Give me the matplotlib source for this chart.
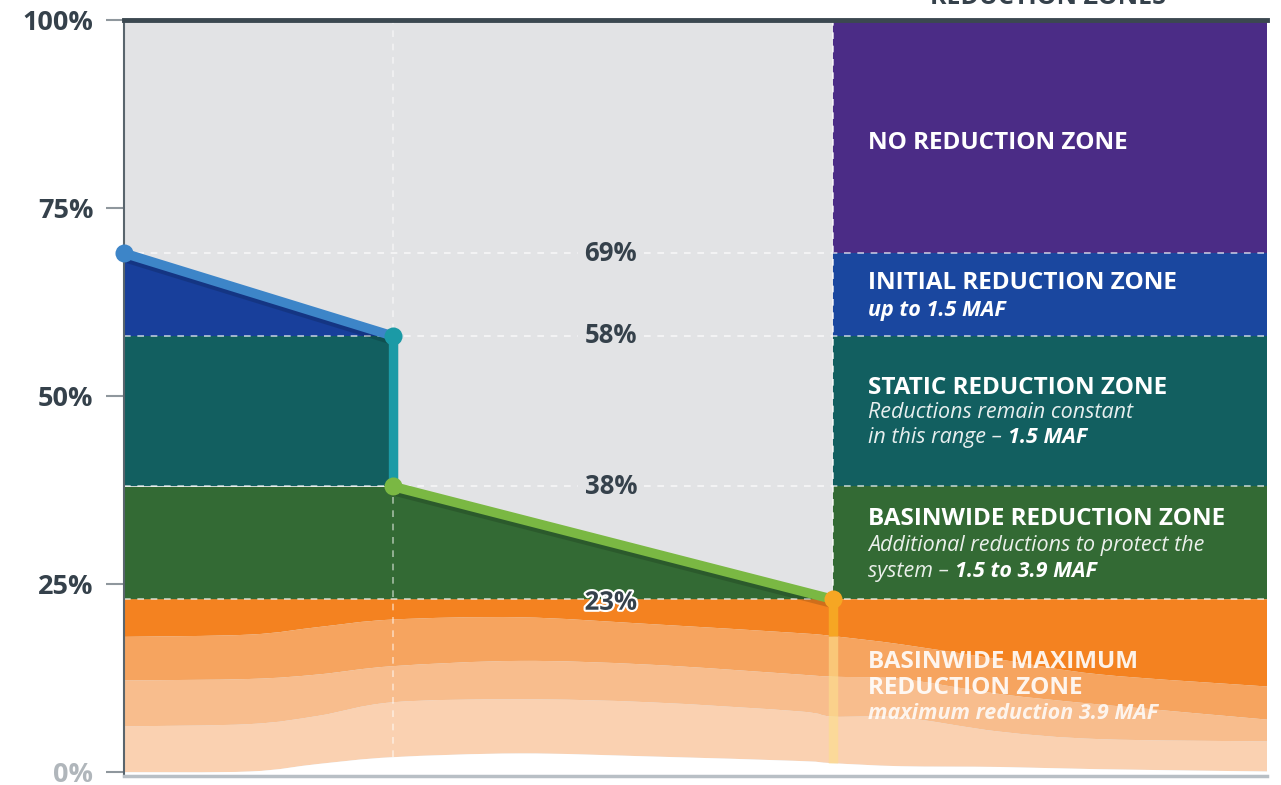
import numpy as np
import matplotlib
matplotlib.use("Agg")
import matplotlib.pyplot as plt
import matplotlib.patheffects as pe
from matplotlib.path import Path
from matplotlib.patches import PathPatch

plt.rcParams['font.family'] = ['Open Sans', 'DejaVu Sans']

# reservoir level thresholds (percent) and where they sit along the x axis
levels = [69, 58, 38, 23]
level_labels = ['69%', '58%', '38%', '23%']
path_x = [0, 23.5, 23.5, 62]
path_y = [69, 58, 38, 23]
panel_x = 62

# wavy bands of the maximum reduction zone, read at these x positions
wave_x = [0, 11, 17, 23.5, 34.6, 46, 59, 62, 68, 76.6, 85.4, 100]
band1 = [18.0, 18.3, 19.3, 20.3, 20.6, 19.7, 18.5, 18.1, 17.0, 15.0, 13.0, 11.4]
band2 = [12.2, 12.4, 13.0, 14.1, 14.8, 14.3, 13.0, 12.7, 12.4, 10.4, 9.0, 7.0]
band3 = [6.1, 6.4, 7.5, 9.3, 9.7, 9.3, 8.1, 7.4, 7.3, 5.4, 4.4, 4.1]
bottom = [0.0, 0.1, 1.1, 2.0, 2.5, 2.1, 1.5, 1.2, 0.8, 0.7, 0.4, 0.1]

ytick_vals = [0, 25, 50, 75, 100]
ytick_labels = ['0%', '25%', '50%', '75%', '100%']

c_gray = '#e2e3e5'
c_purple = '#4b2c86'
c_blue = '#1a479f'
c_blue_l = '#183f9b'
c_teal = '#125f60'
c_green = '#336a34'
c_orange = ['#f48220', '#f6a45f', '#f8bd8d', '#fad1b1']
c_text = '#35414b'


def smooth_codes(xs, ys):
    # catmull-rom through the points, written as cubic bezier segments
    pts = np.column_stack([xs, ys]).astype(float)
    verts, codes = [], []
    n = len(pts)
    for i in range(n - 1):
        p0 = pts[max(i - 1, 0)]
        p1 = pts[i]
        p2 = pts[i + 1]
        p3 = pts[min(i + 2, n - 1)]
        c1 = p1 + (p2 - p0) / 6
        c2 = p2 - (p3 - p1) / 6
        verts += [c1, c2, p2]
        codes += [Path.CURVE4] * 3
    return verts, codes


def smooth_band(ax, xs, top, bot, **kw):
    tv, tc = smooth_codes(xs, top)
    bv, bc = smooth_codes(xs[::-1], bot[::-1])
    verts = [(xs[0], top[0])] + tv + [(xs[-1], bot[-1])] + bv + [(xs[0], top[0])]
    codes = [Path.MOVETO] + tc + [Path.LINETO] + bc + [Path.CLOSEPOLY]
    ax.add_patch(PathPatch(Path(verts, codes), lw=0, **kw))


fig = plt.figure(figsize=(12.81, 7.85), dpi=100)
ax = fig.add_axes([124 / 1281, 9 / 785, 1143 / 1281, 756 / 785])
ax.set_facecolor(c_gray)
ax.set_xlim(0, 100)
ax.set_ylim(-0.5, 100)

# zones left of the panel, under the path
ax.fill_between(path_x[:2], [levels[1]] * 2, path_y[:2], color=c_blue_l, lw=0, zorder=1)
ax.fill_between(path_x[:2], [levels[2]] * 2, [levels[1]] * 2, color=c_teal, lw=0, zorder=1)
ax.fill_between([0, path_x[2], path_x[3]], [levels[3]] * 3,
                [levels[2], path_y[2], path_y[3]], color=c_green, lw=0, zorder=1)

# right panel zones
px = [panel_x, 100]
ax.fill_between(px, levels[0], 100, color=c_purple, lw=0, zorder=1)
ax.fill_between(px, levels[1], levels[0], color=c_blue, lw=0, zorder=1)
ax.fill_between(px, levels[2], levels[1], color=c_teal, lw=0, zorder=1)
ax.fill_between(px, levels[3], levels[2], color=c_green, lw=0, zorder=1)

# maximum reduction bands
tops = [[levels[3]] * len(wave_x), band1, band2, band3]
bots = [band1, band2, band3, bottom]
for top, bot, col in zip(tops, bots, c_orange):
    smooth_band(ax, wave_x, top, bot, color=col, zorder=1.2)
smooth_band(ax, wave_x, bottom, [-1] * len(wave_x), color='white', zorder=1.3)

# dashed guide lines
for lv in levels:
    ax.axhline(lv, color='white', lw=1.2, ls=(0, (4, 4)), alpha=0.7, zorder=2)
ax.plot([path_x[1]] * 2, [bottom[3], 100], color='white', lw=1.2,
        ls=(0, (4, 4)), alpha=0.55, zorder=2)
ax.plot([panel_x] * 2, [levels[3], 100], color='white', lw=1.2,
        ls=(0, (4, 4)), alpha=0.8, zorder=2)

# the reduction path
shadow = [pe.SimpleLineShadow(offset=(0, -3), alpha=0.15, shadow_color='black'), pe.Normal()]
seg_cols = ['#3d85c8', '#1b9aa6', '#7ab843']
for i, col in enumerate(seg_cols):
    ax.plot(path_x[i:i + 2], path_y[i:i + 2], color=col, lw=6.8,
            solid_capstyle='round', zorder=4, path_effects=shadow)
i62 = wave_x.index(panel_x)
ax.plot([panel_x] * 2, [band1[i62], bottom[i62]], color='#fde08a', lw=6.8,
        alpha=0.6, solid_capstyle='butt', zorder=3.9)
ax.plot([panel_x] * 2, [path_y[3], band1[i62]], color='#f6a623', lw=6.8,
        solid_capstyle='butt', zorder=4)
for x, y, col in zip(path_x, path_y, ['#3d85c8', '#1b9aa6', '#7ab843', '#f6a623']):
    ax.plot(x, y, 'o', ms=13, color=col, mec='none', zorder=4.5, clip_on=False)

# threshold labels
for lv, lab in zip(levels, level_labels):
    if lv == levels[3]:
        ax.text(42.6, lv - 0.4, lab, ha='center', va='center', fontsize=18.5,
                fontweight='bold', color=c_text, zorder=5,
                path_effects=[pe.withStroke(linewidth=3, foreground='white')])
    else:
        ax.text(42.6, lv, lab, ha='center', va='center', fontsize=18.5,
                fontweight='bold', color=c_text, zorder=5,
                bbox=dict(boxstyle='square,pad=0.25', fc=c_gray, ec='none'))

# zone descriptions
tx = 65.1
head = dict(fontsize=17.5, fontweight='bold', color='white', va='center', zorder=5)
sub = dict(fontsize=15.5, style='italic', color='white', va='center', zorder=5)
subb = dict(fontsize=15.5, style='italic', fontweight='bold', color='white', zorder=5)

ax.text(tx, 83.7, 'NO REDUCTION ZONE', **head)
ax.text(tx, 65.1, 'INITIAL REDUCTION ZONE', **head)
ax.text(tx, 61.4, 'up to 1.5 MAF', **dict(sub, fontweight='bold'))
ax.text(tx, 51.1, 'STATIC REDUCTION ZONE', **head)
ax.text(tx, 47.8, 'Reductions remain constant', alpha=0.9, **sub)
t1 = ax.text(tx, 44.5, 'in this range – ', alpha=0.9, **sub)
ax.annotate('1.5 MAF', xy=(1, 0), xycoords=t1, va='bottom', **subb)
ax.text(tx, 33.6, 'BASINWIDE REDUCTION ZONE', **head)
ax.text(tx, 30.1, 'Additional reductions to protect the', alpha=0.9, **sub)
t2 = ax.text(tx, 26.7, 'system – ', alpha=0.9, **sub)
ax.annotate('1.5 to 3.9 MAF', xy=(1, 0), xycoords=t2, va='bottom', **subb)
ax.text(tx, 14.7, 'BASINWIDE MAXIMUM', alpha=0.9, **head)
ax.text(tx, 11.2, 'REDUCTION ZONE', alpha=0.9, **head)
ax.text(tx, 7.8, 'maximum reduction 3.9 MAF', alpha=0.85, **dict(sub, fontweight='bold'))

fig.text(0.818, 1 - 4 / 785, 'REDUCTION ZONES', ha='center', va='baseline',
         fontsize=18, fontweight='bold', color=c_text)

# axes styling
ax.spines['right'].set_visible(False)
ax.spines['top'].set_color('#3b4850')
ax.spines['top'].set_linewidth(3.5)
ax.spines['left'].set_color('#59656d')
ax.spines['left'].set_linewidth(1.5)
ax.spines['bottom'].set_color('#b8bfc5')
ax.spines['bottom'].set_linewidth(2.5)
ax.set_xticks([])
ax.set_yticks(ytick_vals)
ax.set_yticklabels(ytick_labels, fontsize=19.5, fontweight='bold', color=c_text)
ax.get_yticklabels()[0].set_color('#b0b6bb')
ax.tick_params(axis='y', length=13, width=1.5, color='#8f979d', pad=9)

fig.savefig('out.png', dpi=100)
